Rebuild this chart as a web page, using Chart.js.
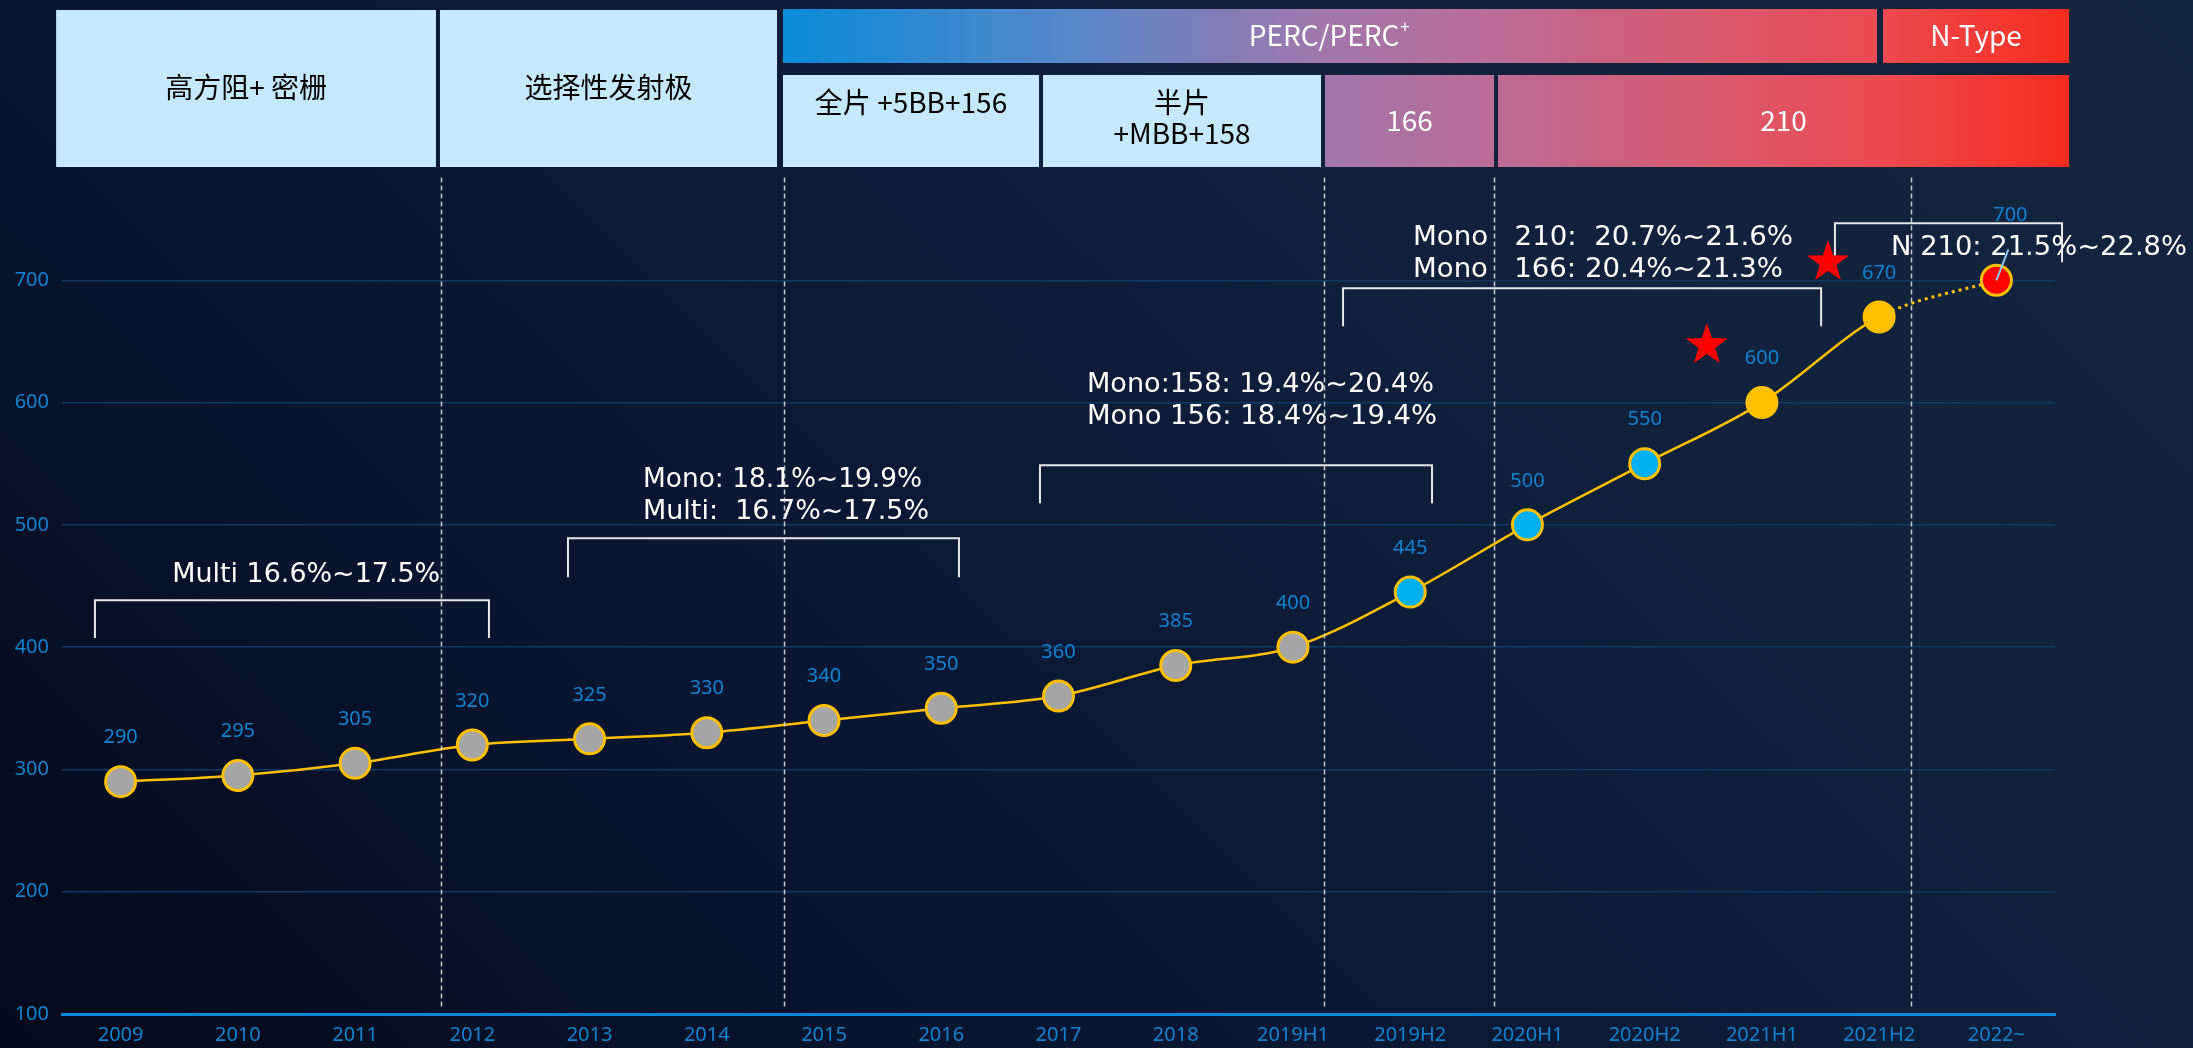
<!DOCTYPE html>
<html><head><meta charset="utf-8">
<script src="https://cdn.jsdelivr.net/npm/chart.js@4"></script>
<style>
html,body{margin:0;padding:0;width:2193px;height:1048px;overflow:hidden;
background:linear-gradient(45deg,#030a1a 0%,#0a1530 30%,#0c1a36 50%,#11213c 70%,#14253f 100%);}
#wrap{position:absolute;left:0;top:0;width:2193px;height:1048px;}
</style></head><body>
<div id="wrap"><canvas id="c" width="2193" height="1048"></canvas></div>
<script>
// ---- data ----
const categories = ['2009','2010','2011','2012','2013','2014','2015','2016','2017','2018','2019H1','2019H2','2020H1','2020H2','2021H1','2021H2','2022~'];
const power = [290,295,305,320,325,330,340,350,360,385,400,445,500,550,600,670,700];
const pointKind = ['grey','grey','grey','grey','grey','grey','grey','grey','grey','grey','grey','cyan','cyan','cyan','gold','gold','red'];
const yTicks = [100,200,300,400,500,600,700];

// ---- annotation layout (category index / value units) ----
const headerBoxes = [
  {from:-0.55, to:2.69,  row:'full',   lines:['高方阻+ 密栅'], kind:'light'},
  {from:2.724, to:5.599, row:'full',   lines:['选择性发射极'], kind:'light'},
  {from:5.65,  to:14.982,row:'top',    lines:['PERC/PERC'], sup:'+', kind:'grad'},
  {from:15.033,to:16.62, row:'top',    lines:['N-Type'], kind:'grad'},
  {from:5.65,  to:7.834, row:'bottom', lines:['全片 +5BB+156'], kind:'light', valign:'top'},
  {from:7.868, to:10.239,row:'bottom', lines:['半片','+MBB+158'], kind:'light', valign:'top'},
  {from:10.273,to:11.715,row:'bottom', lines:['166'], kind:'grad'},
  {from:11.749,to:16.62, row:'bottom', lines:['210'], kind:'grad'}
];
const dividers = [2.733, 5.658, 10.265, 11.715, 15.272];
const brackets = [
  {from:-0.219,to:3.142, top:438.4,bottom:407.4},
  {from:3.816, to:7.151, top:489.1,bottom:457.2},
  {from:7.842, to:11.186,top:548.8,bottom:517.7},
  {from:10.427,to:14.505,top:693.5,bottom:662.4},
  {from:14.623,to:16.56, top:746.6,bottom:714.7}
];
const notes = [
  {x:0.440, y:458.9, lines:['Multi 16.6%~17.5%'], w:[268]},
  {x:4.456, y:536.5, lines:['Mono: 18.1%~19.9%','Multi:  16.7%~17.5%'], w:[279,286]},
  {x:8.243, y:614.2, lines:['Mono:158: 19.4%~20.4%','Mono 156: 18.4%~19.4%'], w:[347,350]},
  {x:11.024,y:734.3, lines:['Mono   210:  20.7%~21.6%','Mono   166: 20.4%~21.3%'], w:[380,370]},
  {x:15.101,y:726.2, lines:['N 210: 21.5%~22.8%'], w:[296]}
];
const stars = [{x:13.53,y:646.9},{x:14.564,y:714.7}];

// ---- styles ----
const kindFill = {grey:'#a6a6a6', cyan:'#00b0f0', gold:'#ffc000', red:'#ff0000'};
const kindBorder = {grey:'#ffc000', cyan:'#ffc000', gold:'#ffc000', red:'#ffc000'};
const BLUE = '#1282d2';
const rows = {full:[10,167], top:[9,63], bottom:[75,167]};

function makeGrad(ctx, x0, x1){
  const g = ctx.createLinearGradient(x0,0,x1,0);
  g.addColorStop(0,'#0a8ad8');
  g.addColorStop(0.22,'#5688ca');
  g.addColorStop(0.42,'#a077aa');
  g.addColorStop(0.56,'#bc6b94');
  g.addColorStop(0.72,'#d95a70');
  g.addColorStop(0.85,'#ea4a52');
  g.addColorStop(1,'#f72d1f');
  return g;
}

function drawStar(ctx, cx, cy, R){
  const r = R*0.40;
  ctx.beginPath();
  for(let i=0;i<10;i++){
    const a = -Math.PI/2 + i*Math.PI/5;
    const rr = i%2===0?R:r;
    const px = cx + rr*Math.cos(a), py = cy + rr*Math.sin(a);
    if(i===0) ctx.moveTo(px,py); else ctx.lineTo(px,py);
  }
  ctx.closePath();
  ctx.fillStyle='#ff0000';
  ctx.fill();
}

function fitText(ctx, text, x, y, target){
  const m = ctx.measureText(text).width;
  const s = target ? target/m : 1;
  ctx.save();
  ctx.translate(x,y);
  ctx.scale(s,1);
  ctx.fillText(text,0,0);
  ctx.restore();
}

const overlay = {
  id:'overlay',
  beforeDatasetsDraw(chart){
    const {ctx, scales:{x,y}} = chart;
    const gx0 = x.getPixelForValue(5.65), gx1 = x.getPixelForValue(16.62);
    ctx.save();
    headerBoxes.forEach(b=>{
      const x0 = x.getPixelForValue(b.from), x1 = x.getPixelForValue(b.to);
      const [y0,y1] = rows[b.row];
      ctx.fillStyle = b.kind==='light' ? '#c6e8fb' : makeGrad(ctx,gx0,gx1);
      ctx.fillRect(x0,y0,x1-x0,y1-y0);
      ctx.fillStyle = b.kind==='light' ? '#000000' : '#ffffff';
      ctx.font = '28px "Noto Sans CJK SC"';
      ctx.textAlign='center'; ctx.textBaseline='middle';
      const cx = (x0+x1)/2;
      let cy;
      if(b.valign==='top') cy = y0+27;
      else cy = (y0+y1)/2 - 1 - (b.lines.length-1)*15.5;
      b.lines.forEach((t,i)=>{
        if(b.sup){
          const w = ctx.measureText(t).width;
          ctx.font = '28px "Noto Sans CJK SC"';
          ctx.fillText(t, cx-6, cy+i*31);
          ctx.font = '17px "Noto Sans CJK SC"';
          ctx.textAlign='left';
          ctx.fillText(b.sup, cx-6+w/2+1, cy-8);
          ctx.textAlign='center';
        } else {
          ctx.fillText(t, cx, cy+i*31);
        }
      });
    });
    ctx.restore();
  },
  afterDatasetsDraw(chart){
    const {ctx, scales:{x,y}} = chart;
    ctx.save();
    // brackets
    ctx.strokeStyle='#e8e8e8'; ctx.lineWidth=2;
    brackets.forEach(b=>{
      const x0=x.getPixelForValue(b.from), x1=x.getPixelForValue(b.to);
      const yt=y.getPixelForValue(b.top), yb=y.getPixelForValue(b.bottom);
      ctx.beginPath();
      ctx.moveTo(x0,yb); ctx.lineTo(x0,yt); ctx.lineTo(x1,yt); ctx.lineTo(x1,yb);
      ctx.stroke();
    });
    // notes
    ctx.fillStyle='#ffffff';
    ctx.font='27px "DejaVu Sans"';
    ctx.textAlign='left'; ctx.textBaseline='middle';
    notes.forEach(n=>{
      const px=x.getPixelForValue(n.x), py=y.getPixelForValue(n.y);
      n.lines.forEach((t,i)=> fitText(ctx,t,px,py+i*32,n.w[i]));
    });
    // stars
    stars.forEach(s=> drawStar(ctx, x.getPixelForValue(s.x), y.getPixelForValue(s.y), 22));
    // dividers
    ctx.strokeStyle='rgba(220,220,220,0.9)'; ctx.lineWidth=1.5; ctx.setLineDash([5,3]);
    dividers.forEach(d=>{
      const px = Math.round(x.getPixelForValue(d))+0.5;
      ctx.beginPath();
      ctx.moveTo(px, y.getPixelForValue(784)); ctx.lineTo(px, y.getPixelForValue(106));
      ctx.stroke();
    });
    ctx.setLineDash([]);
    // value labels
    const meta = chart.getDatasetMeta(0);
    ctx.fillStyle=BLUE; ctx.font='20px "Noto Sans"'; ctx.textAlign='center'; ctx.textBaseline='middle';
    meta.data.forEach((pt,i)=>{
      const last = i===meta.data.length-1;
      ctx.fillText(String(power[i]), pt.x + (last?14:0), pt.y - (last?65:44));
    });
    // connector on last point
    const lp = meta.data[meta.data.length-1];
    ctx.strokeStyle='#86c9f2'; ctx.lineWidth=2;
    ctx.beginPath(); ctx.moveTo(lp.x, lp.y); ctx.lineTo(lp.x+12, lp.y-31); ctx.stroke();
    ctx.restore();
  }
};

new Chart(document.getElementById('c'), {
  type:'line',
  data:{
    labels:categories,
    datasets:[{
      data:power,
      borderColor:'#ffc000',
      borderWidth:2.5,
      cubicInterpolationMode:'monotone',
      pointRadius:15,
      pointHoverRadius:15,
      pointBorderWidth:3,
      pointBackgroundColor:pointKind.map(k=>kindFill[k]),
      pointBorderColor:pointKind.map(k=>kindBorder[k]),
      segment:{ borderDash: c => c.p1DataIndex === power.length-1 ? [3,4] : undefined,
                borderWidth: c => c.p1DataIndex === power.length-1 ? 3 : 2.5 }
    }]
  },
  options:{
    responsive:false, animation:false, devicePixelRatio:1,
    layout:{padding:{left:0,right:138,top:158,bottom:0}},
    plugins:{legend:{display:false}, tooltip:{enabled:false}},
    scales:{
      x:{type:'category', offset:true,
         grid:{display:false, drawTicks:false},
         border:{display:true, color:'#0a86dc', width:3},
         ticks:{color:BLUE, font:{family:'Noto Sans', size:20}, padding:9, maxRotation:0, autoSkip:false},
         afterFit(s){ s.height = 34; }},
      y:{min:100, max:800,
         ticks:{stepSize:100, color:BLUE, font:{family:'Noto Sans', size:20}, padding:13,
                callback:v => yTicks.includes(v) ? String(v) : ''},
         grid:{color:c => (c.tick && c.tick.value===800) ? 'rgba(0,0,0,0)' : '#0f3a66', lineWidth:1.5, drawTicks:false},
         border:{display:false},
         afterFit(s){ s.width = 62; }}
    }
  },
  plugins:[overlay]
});
</script>
</body></html>
